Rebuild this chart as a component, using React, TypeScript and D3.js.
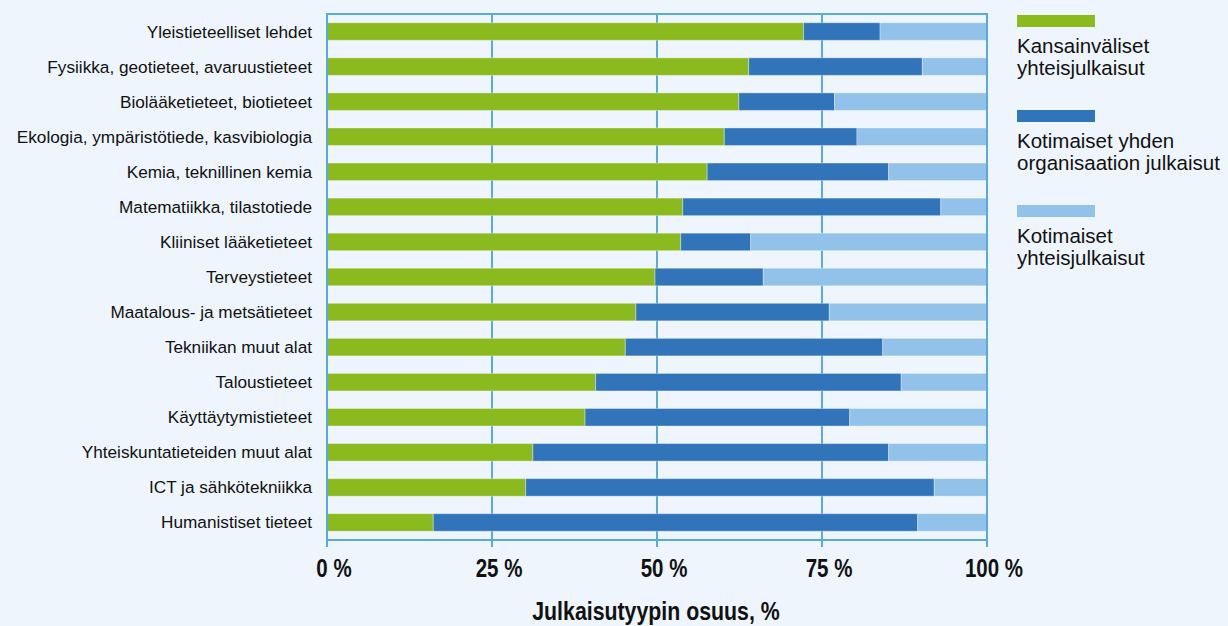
import React from "react";
import * as d3 from "d3";

const categories: string[] = [
  "Yleistieteelliset lehdet",
  "Fysiikka, geotieteet, avaruustieteet",
  "Biolääketieteet, biotieteet",
  "Ekologia, ympäristötiede, kasvibiologia",
  "Kemia, teknillinen kemia",
  "Matematiikka, tilastotiede",
  "Kliiniset lääketieteet",
  "Terveystieteet",
  "Maatalous- ja metsätieteet",
  "Tekniikan muut alat",
  "Taloustieteet",
  "Käyttäytymistieteet",
  "Yhteiskuntatieteiden muut alat",
  "ICT ja sähkötekniikka",
  "Humanistiset tieteet",
];

const kansainvaliset: number[] = [72.2, 63.9, 62.4, 60.2, 57.6, 53.9, 53.6, 49.7, 46.8, 45.2, 40.7, 39.1, 31.2, 30.1, 16.1];
const yhdenOrganisaation: number[] = [11.6, 26.3, 14.5, 20.1, 27.5, 39.1, 10.6, 16.4, 29.3, 39.0, 46.3, 40.1, 53.9, 61.9, 73.4];
const kotimaisetYhteis: number[] = [16.2, 9.8, 23.1, 19.7, 14.9, 7.0, 35.8, 33.9, 23.9, 15.8, 13.0, 20.8, 14.9, 8.0, 10.5];

const seriesNames: string[][] = [
  ["Kansainväliset", "yhteisjulkaisut"],
  ["Kotimaiset yhden", "organisaation julkaisut"],
  ["Kotimaiset", "yhteisjulkaisut"],
];
const seriesColors: string[] = ["#8BBA1F", "#3274BA", "#92C1E9"];
const tickValues: number[] = [0, 25, 50, 75, 100];
const axisTitle = "Julkaisutyypin osuus, %";

const W = 1228;
const H = 626;
const M = { left: 327, right: 987, top: 14, bottom: 540 };
const gridColor = "#5AAAE0";
const bg = "#EEF5FC";

export default function App() {
  const x = d3.scaleLinear().domain([0, 100]).range([M.left, M.right]);
  const y = d3
    .scaleBand<string>()
    .domain(categories)
    .range([M.top, M.bottom])
    .paddingInner(0.5)
    .paddingOuter(0.25);

  const rows = categories.map((c, i) => ({
    cat: c,
    vals: [kansainvaliset[i], yhdenOrganisaation[i], kotimaisetYhteis[i]],
  }));

  const stack = d3
    .stack<any>()
    .keys(["0", "1", "2"])
    .value((d: any, k: string) => d.vals[+k]);
  const stacked = stack(rows);

  const legendY = d3.scaleLinear().domain([0, 1]).range([15, 110]);
  const uiFont = "'Liberation Sans', Arial, sans-serif";
  const narrow = 0.82;

  return (
    <svg
      width={W}
      height={H}
      style={{ position: "absolute", left: 0, top: 0, display: "block" }}
      xmlns="http://www.w3.org/2000/svg"
    >
      <rect x={0} y={0} width={W} height={H} fill={bg} />

      {/* gridlines and tick marks */}
      {tickValues.map((t) => (
        <line
          key={"g" + t}
          x1={x(t)}
          x2={x(t)}
          y1={M.top}
          y2={M.bottom + 7}
          stroke={gridColor}
          strokeWidth={2}
        />
      ))}

      {/* bars */}
      {stacked.map((layer, si) => (
        <g key={"s" + si} fill={seriesColors[si]}>
          {layer.map((d: any, i: number) => (
            <rect
              key={i}
              x={x(d[0])}
              y={y(categories[i])!}
              width={x(d[1]) - x(d[0])}
              height={y.bandwidth()}
              stroke="#ffffff"
              strokeOpacity={0.35}
              strokeWidth={1}
            />
          ))}
        </g>
      ))}

      {/* frame */}
      <rect
        x={M.left}
        y={M.top}
        width={M.right - M.left}
        height={M.bottom - M.top}
        fill="none"
        stroke={gridColor}
        strokeWidth={2}
      />

      {/* category labels */}
      {categories.map((c) => (
        <text
          key={c}
          x={M.left - 15}
          y={y(c)! + y.bandwidth() / 2}
          dy="0.35em"
          textAnchor="end"
          fontFamily={uiFont}
          fontSize={17.2}
          fill="#111"
        >
          {c}
        </text>
      ))}

      {/* tick labels */}
      {tickValues.map((t) => (
        <g key={"t" + t} transform={`translate(${x(t) + 7},577) scale(${narrow},1)`}>
          <text
            x={0}
            y={0}
            textAnchor="middle"
            fontFamily={uiFont}
            fontWeight="bold"
            fontSize={25}
            fill="#111"
          >
            {t} %
          </text>
        </g>
      ))}

      {/* axis title */}
      <g transform={`translate(${(M.left + M.right) / 2 - 1},620) scale(${narrow},1)`}>
        <text
          x={0}
          y={0}
          textAnchor="middle"
          fontFamily={uiFont}
          fontWeight="bold"
          fontSize={26}
          fill="#111"
        >
          {axisTitle}
        </text>
      </g>

      {/* legend */}
      {seriesNames.map((lines, i) => {
        const top = legendY(i);
        return (
          <g key={"l" + i}>
            <rect x={1017} y={top} width={78} height={12} fill={seriesColors[i]} />
            {lines.map((ln, j) => (
              <text
                key={j}
                x={1017}
                y={top + 38.3 + j * 21.8}
                fontFamily={uiFont}
                fontSize={20.5}
                fill="#111"
              >
                {ln}
              </text>
            ))}
          </g>
        );
      })}
    </svg>
  );
}
